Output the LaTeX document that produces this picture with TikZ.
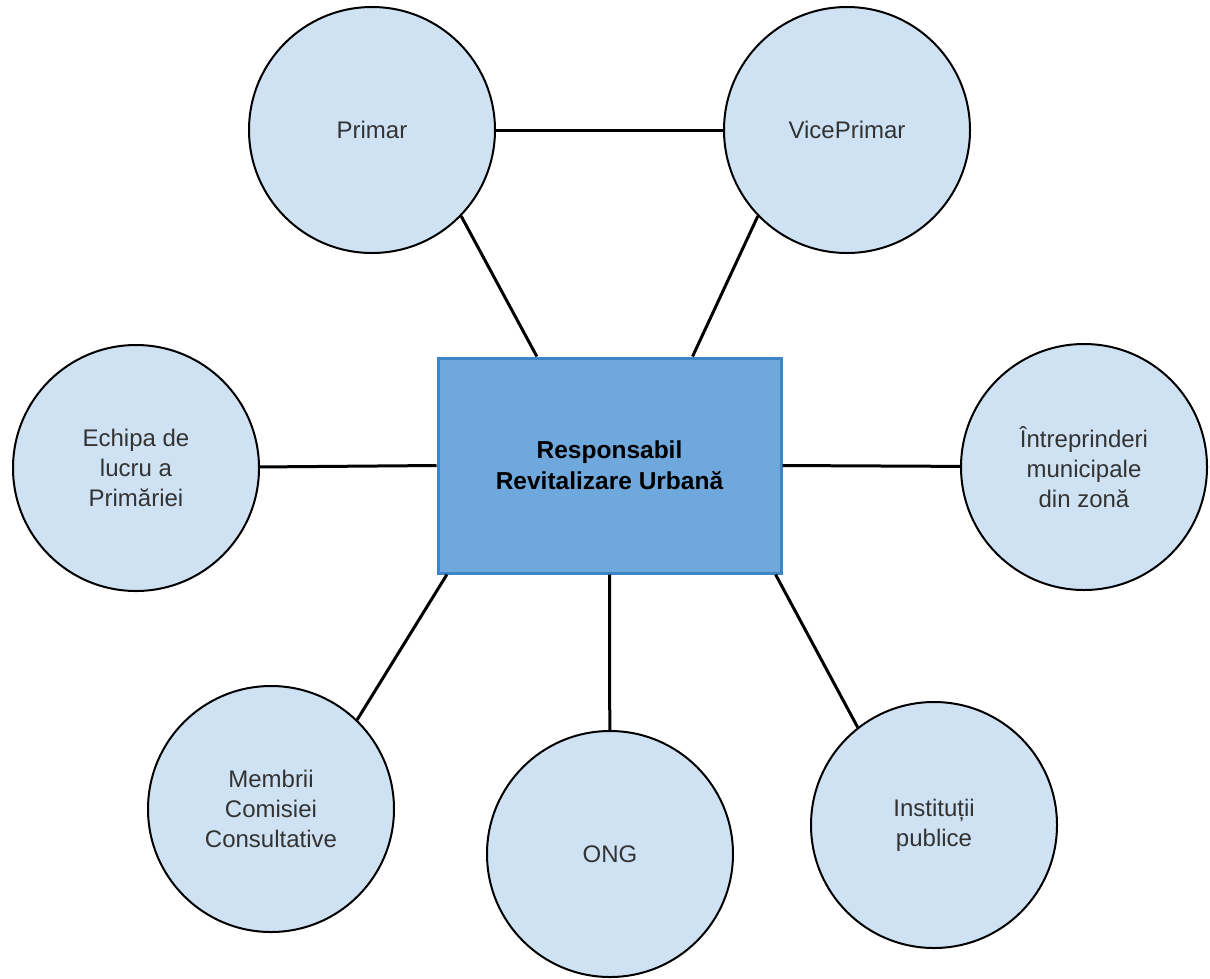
\documentclass[tikz,border=0pt]{standalone}
\usepackage{fontspec}
\setmainfont{Liberation Sans}
\usepackage{tikz}
\usetikzlibrary{calc, positioning}

\definecolor{circfill}{HTML}{CFE2F3}
\definecolor{boxfill}{HTML}{6FA8DC}
\definecolor{boxline}{HTML}{3D85C6}

\begin{document}
\begin{tikzpicture}[
  x=1pt, y=-1pt,
  link/.style={line width=3pt},
  actor/.style={
    draw,
    line width=2pt,
    circle,
    fill=circfill,
    inner sep=0pt,
    minimum size=246pt,
    align=center,
    text=black!80,
    font=\fontsize{24}{30}\selectfont
    },
  central/.style={
    draw=boxline,
    line width=3pt,
    rectangle,
    fill=boxfill,
    minimum width=343pt,
    minimum height=215pt,
    align=center,
    font=\fontsize{24.5}{31}\selectfont\bfseries
    }
]

\useasboundingbox (0,0) rectangle (1210,978);

\node[central] (resp) at (609.5,465.5) {Responsabil\\Revitalizare Urbană};

\node[actor] (primar) at (372,130) {Primar};
\node[actor] (vice) at (847,130) {VicePrimar};
\node[actor] (echipa) at (136,468) {Echipa de\\lucru a\\Primăriei};
\node[actor] (intrep) at (1084,467) {Întreprinderi\\municipale\\din zonă};
\node[actor] (membrii) at (271,809) {Membrii\\Comisiei\\Consultative};
\node[actor] (ong) at (610,854) {ONG};
\node[actor] (inst) at (934,825) {Instituții\\publice};

% legaturi
\draw[link] (primar) -- (vice);
\draw[link] (primar.-44) -- ($(resp.north west)!0.29!(resp.north east)$);
\draw[link] (vice.-136) -- ($(resp.north west)!0.74!(resp.north east)$);
\draw[link] (echipa) -- (resp.west);
\draw[link] (intrep) -- (resp.east);
\draw[link] (membrii.46) -- ($(resp.south west)!0.03!(resp.south east)$);
\draw[link] (ong) -- (resp.south);
\draw[link] (inst.128) -- ($(resp.south west)!0.98!(resp.south east)$);

\end{tikzpicture}
\end{document}
